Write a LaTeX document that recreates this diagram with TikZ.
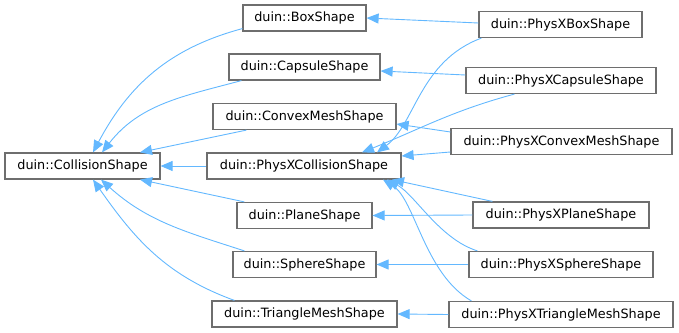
\documentclass[tikz,border=0pt]{standalone}
\usepackage{fontspec}
\setmainfont{DejaVu Sans}
\usetikzlibrary{arrows.meta}
\definecolor{edgeblue}{HTML}{63B8FF}
\definecolor{boxgray}{HTML}{6E6E6E}
\tikzset{
  cls/.style={draw=boxgray, line width=1.2pt, fill=white, minimum height=26pt,
    inner sep=0pt, font=\fontsize{12.8}{15}\selectfont},
  inherit/.style={draw=edgeblue, line width=0.9pt,
    {Triangle[length=12pt,width=10pt]}-}
}
\begin{document}
\begin{tikzpicture}[x=1pt,y=1pt]
      \useasboundingbox (0,0) rectangle (679,-332);
      \node[cls, minimum width=155pt] (coll) at (82.5,-166) {duin::CollisionShape};
      \node[cls, minimum width=123pt] (box) at (304.5,-18) {duin::BoxShape};
      \node[cls, minimum width=151pt] (capsule) at (304.5,-67) {duin::CapsuleShape};
      \node[cls, minimum width=183pt] (convex) at (304.5,-116.5) {duin::ConvexMeshShape};
      \node[cls, minimum width=194pt] (physcoll) at (304,-166) {duin::PhysXCollisionShape};
      \node[cls, minimum width=135pt] (plane) at (304.5,-215.5) {duin::PlaneShape};
      \node[cls, minimum width=143pt] (sphere) at (304.5,-264.5) {duin::SphereShape};
      \node[cls, minimum width=185pt] (trimesh) at (304.5,-314) {duin::TriangleMeshShape};
      \node[cls, minimum width=163pt] (pbox) at (560.5,-24.5) {duin::PhysXBoxShape};
      \node[cls, minimum width=190pt] (pcapsule) at (561,-80.5) {duin::PhysXCapsuleShape};
      \node[cls, minimum width=221pt] (pconvex) at (561.5,-141.5) {duin::PhysXConvexMeshShape};
      \node[cls, minimum width=176pt] (pplane) at (561,-215) {duin::PhysXPlaneShape};
      \node[cls, minimum width=184pt] (psphere) at (561,-264.5) {duin::PhysXSphereShape};
      \node[cls, minimum width=224pt] (ptrimesh) at (561,-314.5) {duin::PhysXTriangleMeshShape};
      \begin{scope}[inherit]
        % base class
        \draw ([xshift=10.5pt]coll.north) to[out=62,in=195] ([yshift=3pt]box.south west);
        \draw ([xshift=19.5pt]coll.north) to[out=52,in=195] ([xshift=13pt]capsule.south west);
        \draw ([xshift=57.5pt]coll.north) -- ([xshift=34pt]convex.south west);
        \draw (coll.east) -- (physcoll.west);
        \draw ([xshift=57.5pt]coll.south) -- ([xshift=8pt]plane.north west);
        \draw ([xshift=18.5pt]coll.south) to[out=-42,in=162] ([xshift=12pt]sphere.north west);
        \draw ([xshift=10.5pt]coll.south) to[out=-55,in=160] ([xshift=23pt]trimesh.north west);
        % shape classes
        \draw (box.east) -- ([yshift=1.5pt]pbox.west);
        \draw ([yshift=-4pt]capsule.east) -- ([yshift=5.5pt]pcapsule.west);
        \draw ([yshift=-7.5pt]convex.east) -- ([yshift=9.5pt]pconvex.west);
        \draw (plane.east) -- (pplane.west);
        \draw (sphere.east) -- (psphere.west);
        \draw (trimesh.east) -- (ptrimesh.west);
        % physx base
        \draw ([xshift=73pt]physcoll.north) .. controls +(38,28) and +(-62,-23) .. ([xshift=3pt]pbox.south west);
        \draw ([xshift=58pt]physcoll.north) to[out=22,in=195] ([xshift=49pt]pcapsule.south west);
        \draw ([yshift=10pt]physcoll.east) -- ([yshift=-10.5pt]pconvex.west);
        \draw ([xshift=88pt]physcoll.south) -- ([xshift=20pt]pplane.north west);
        \draw ([xshift=83pt]physcoll.south) .. controls +(28,-15) and +(-38,12) .. ([xshift=9pt]psphere.north west);
        \draw ([xshift=79pt]physcoll.south) .. controls +(32,-20) and +(-47,27) .. ([xshift=23pt]ptrimesh.north west);
      \end{scope}
    \end{tikzpicture}
\end{document}
